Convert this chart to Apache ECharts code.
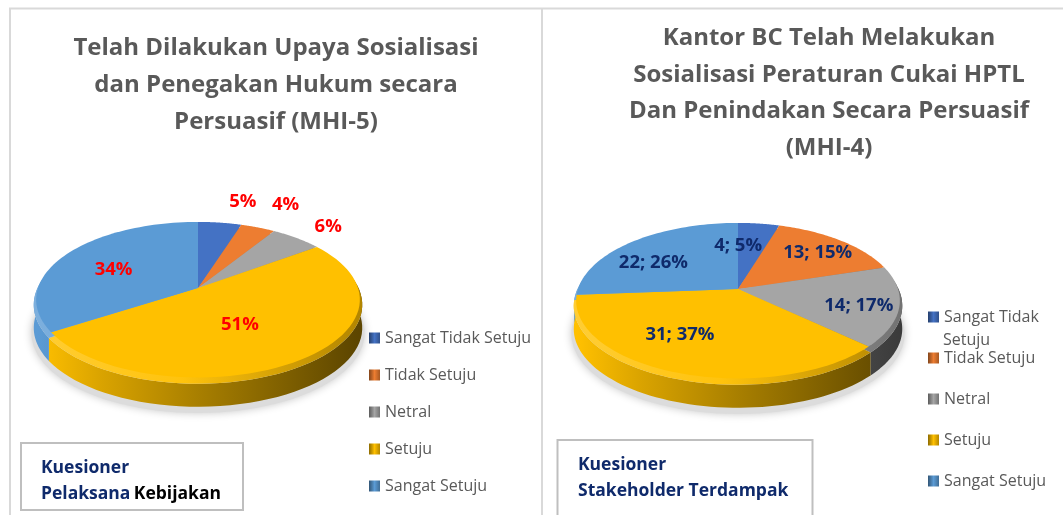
<!DOCTYPE html>
<html>
<head>
<meta charset="utf-8">
<style>html,body{margin:0;background:#fff}#chart{width:1063px;height:515px}</style>
<script src="https://cdn.jsdelivr.net/npm/echarts@6/dist/echarts.min.js"></script>
</head>
<body>
<div id="chart"></div>
<script>
const categories = ['Sangat Tidak Setuju', 'Tidak Setuju', 'Netral', 'Setuju', 'Sangat Setuju'];
const colors = ['#4472c4', '#ed7d31', '#a5a5a5', '#ffc000', '#5b9bd5'];
const pelaksanaValues = [5, 4, 6, 51, 34];
const pelaksanaLabels = ['5%', '4%', '6%', '51%', '34%'];
const stakeholderValues = [4, 13, 14, 31, 22];
const stakeholderLabels = ['4; 5%', '13; 15%', '14; 17%', '31; 37%', '22; 26%'];

const FONT = '"Open Sans", sans-serif';

// tilted disc: wedges meet at the apex, far side is shrunk by k
const pies = [
    { values: pelaksanaValues, labels: pelaksanaLabels, cx: 198, cy: 288, r: 160, ry: 76, labelColor: '#ff0000',
        nudge: [[29, -39], [44, -39], [59, -25], [-27, -11], [9, 6]] },
    { values: stakeholderValues, labels: stakeholderLabels, cx: 738, cy: 289, r: 160, ry: 76, labelColor: '#0f2a6b',
        nudge: [[-15, 4], [6, -1], [9, 5], [-17, -10], [-8, 8]] }
];
const K = 0.15;

function project(p, deg, f, grow, shift) {
    let a = deg * Math.PI / 180;
    let d = 1 + K * f * Math.cos(a);
    return [p.cx + f * grow * p.r * Math.sin(a) / d, p.cy + shift - f * grow * p.ry * Math.cos(a) / d];
}

function arc(p, from, to, grow, shift) {
    let pts = [];
    for (let i = 0; i <= 60; i++) {
        pts.push(project(p, from + (to - from) * i / 60, 1, grow, shift));
    }
    return pts;
}

function shade(hex, m) {
    let c = echarts.color.parse(hex);
    let f = v => m <= 1 ? Math.round(v * m) : Math.round(v + (255 - v) * (m - 1));
    return 'rgb(' + f(c[0]) + ',' + f(c[1]) + ',' + f(c[2]) + ')';
}

function sideFill(p, hex, stops) {
    return new echarts.graphic.LinearGradient(p.cx - p.r, 0, p.cx + p.r, 0,
        stops.map(s => ({ offset: s[0], color: shade(hex, s[1]) })), true);
}

function sliceRender(p, idx) {
    let total = p.values.reduce((a, b) => a + b, 0);
    let start = p.values.slice(0, idx).reduce((a, b) => a + b, 0) / total * 360;
    let end = start + p.values[idx] / total * 360;
    let mid = (start + end) / 2;
    let hex = colors[idx];
    let rim = arc(p, start, end, 1.015, 5);
    let low = arc(p, start, end, 1.015, 28);
    let anchor = project(p, mid, 0.7, 1, 0);
    return function() {
        return {
            type: 'group',
            children: [
                {
                    type: 'polygon', z2: 1, silent: true,
                    shape: { points: rim.concat(low.slice().reverse()) },
                    style: { fill: sideFill(p, hex, [[0, 1], [0.2, 0.85], [0.5, 0.66], [1, 0.36]]) }
                },
                {
                    type: 'polygon', z2: 2, silent: true,
                    shape: { points: [[p.cx, p.cy]].concat(rim) },
                    style: { fill: sideFill(p, hex, [[0, 1.2], [0.45, 1.05], [1, 0.7]]) }
                },
                {
                    type: 'polygon', z2: 3, silent: true,
                    shape: { points: [[p.cx, p.cy]].concat(arc(p, start, end, 1, 0)) },
                    style: { fill: hex }
                },
                {
                    type: 'text', z2: 4, silent: true,
                    style: {
                        x: anchor[0] + p.nudge[idx][0], y: anchor[1] + p.nudge[idx][1],
                        text: p.labels[idx], fill: p.labelColor, align: 'center', verticalAlign: 'middle',
                        font: 'bold 18.5px ' + FONT
                    }
                }
            ]
        };
    };
}

function shadowRender(p) {
    return function() {
        return {
            type: 'polygon', z2: 0, silent: true,
            shape: { points: arc(p, 0, 360, 1.03, 33) },
            style: { fill: '#dcdcdc', shadowBlur: 9, shadowColor: '#c8c8c8' }
        };
    };
}

let series = [];
pies.forEach(function(p) {
    series.push({ type: 'custom', coordinateSystem: 'none', silent: true, data: [0], renderItem: shadowRender(p), tooltip: { show: false } });
    categories.forEach(function(name, i) {
        series.push({ type: 'custom', name: name, coordinateSystem: 'none', silent: true, data: [p.values[i]], color: colors[i], renderItem: sliceRender(p, i) });
    });
});

function legendItems() {
    return categories.map((name, i) => ({
        name: name,
        itemStyle: {
            color: new echarts.graphic.LinearGradient(0, 0, 1, 0, [
                { offset: 0, color: shade(colors[i], 0.55) },
                { offset: 0.5, color: shade(colors[i], 1) },
                { offset: 1, color: shade(colors[i], 0.7) }
            ])
        }
    }));
}

const legendText = { color: '#595959', fontFamily: FONT, fontSize: 16 };

const boxTextRich = {
    navy: { fill: '#0f2a6b', fontFamily: FONT, fontWeight: 'bold', fontSize: 17.5, lineHeight: 26 },
    black: { fill: '#000', fontFamily: FONT, fontWeight: 'bold', fontSize: 17.5, lineHeight: 26 }
};

let chart = echarts.init(document.getElementById('chart'), null, { renderer: 'canvas' });
chart.setOption({
    animation: false,
    backgroundColor: '#fff',
    title: [
        {
            text: 'Telah Dilakukan Upaya Sosialisasi\ndan Penegakan Hukum secara\nPersuasif (MHI-5)',
            left: 271, top: 25, textAlign: 'center',
            textStyle: { color: '#595959', fontFamily: FONT, fontWeight: 'bold', fontSize: 24, lineHeight: 37 }
        },
        {
            text: 'Kantor BC Telah Melakukan\nSosialisasi Peraturan Cukai HPTL\nDan Penindakan Secara Persuasif\n(MHI-4)',
            left: 824, top: 15, textAlign: 'center',
            textStyle: { color: '#595959', fontFamily: FONT, fontWeight: 'bold', fontSize: 24, lineHeight: 36.5 }
        }
    ],
    legend: [
        {
            orient: 'vertical', left: 369, top: 330, padding: 0, itemWidth: 11, itemHeight: 11, itemGap: 21, itemTextGap: 4, icon: 'rect',
            selectedMode: false, textStyle: legendText, data: legendItems()
        },
        {
            orient: 'vertical', left: 928, top: 309, padding: 0, itemWidth: 11, itemHeight: 11, itemGap: 25, itemTextGap: 4, icon: 'rect',
            selectedMode: false, textStyle: legendText, data: legendItems(),
            formatter: name => name === categories[0] ? 'Sangat Tidak' : name
        }
    ],
    graphic: [
        { type: 'line', silent: true, shape: { x1: 10, y1: 8.5, x2: 10, y2: 515 }, style: { stroke: '#d9d9d9', lineWidth: 2 } },
        { type: 'line', silent: true, shape: { x1: 9, y1: 8.5, x2: 1063, y2: 8.5 }, style: { stroke: '#d9d9d9', lineWidth: 2 } },
        { type: 'line', silent: true, shape: { x1: 542, y1: 8.5, x2: 542, y2: 515 }, style: { stroke: '#d9d9d9', lineWidth: 2 } },
        { type: 'text', silent: true, style: { x: 943, y: 340, text: 'Setuju', fill: '#595959', font: '16px ' + FONT, verticalAlign: 'middle' } },
        {
            type: 'rect', silent: true, shape: { x: 21, y: 443, width: 222, height: 67 },
            style: { fill: '#fff', stroke: '#bfbfbf', lineWidth: 2 }
        },
        {
            type: 'rect', silent: true, shape: { x: 557.5, y: 440, width: 255, height: 80 },
            style: { fill: '#fff', stroke: '#bfbfbf', lineWidth: 2 }
        },
        {
            type: 'text', silent: true, x: 41, y: 455,
            style: { rich: boxTextRich, text: '{navy|Kuesioner}\n{navy|Pelaksana} {black|Kebijakan}' }
        },
        {
            type: 'text', silent: true, x: 578, y: 452,
            style: { rich: boxTextRich, text: '{navy|Kuesioner}\n{navy|Stakeholder Terdampak}' }
        }
    ],
    series: series
});
</script>
</body>
</html>
